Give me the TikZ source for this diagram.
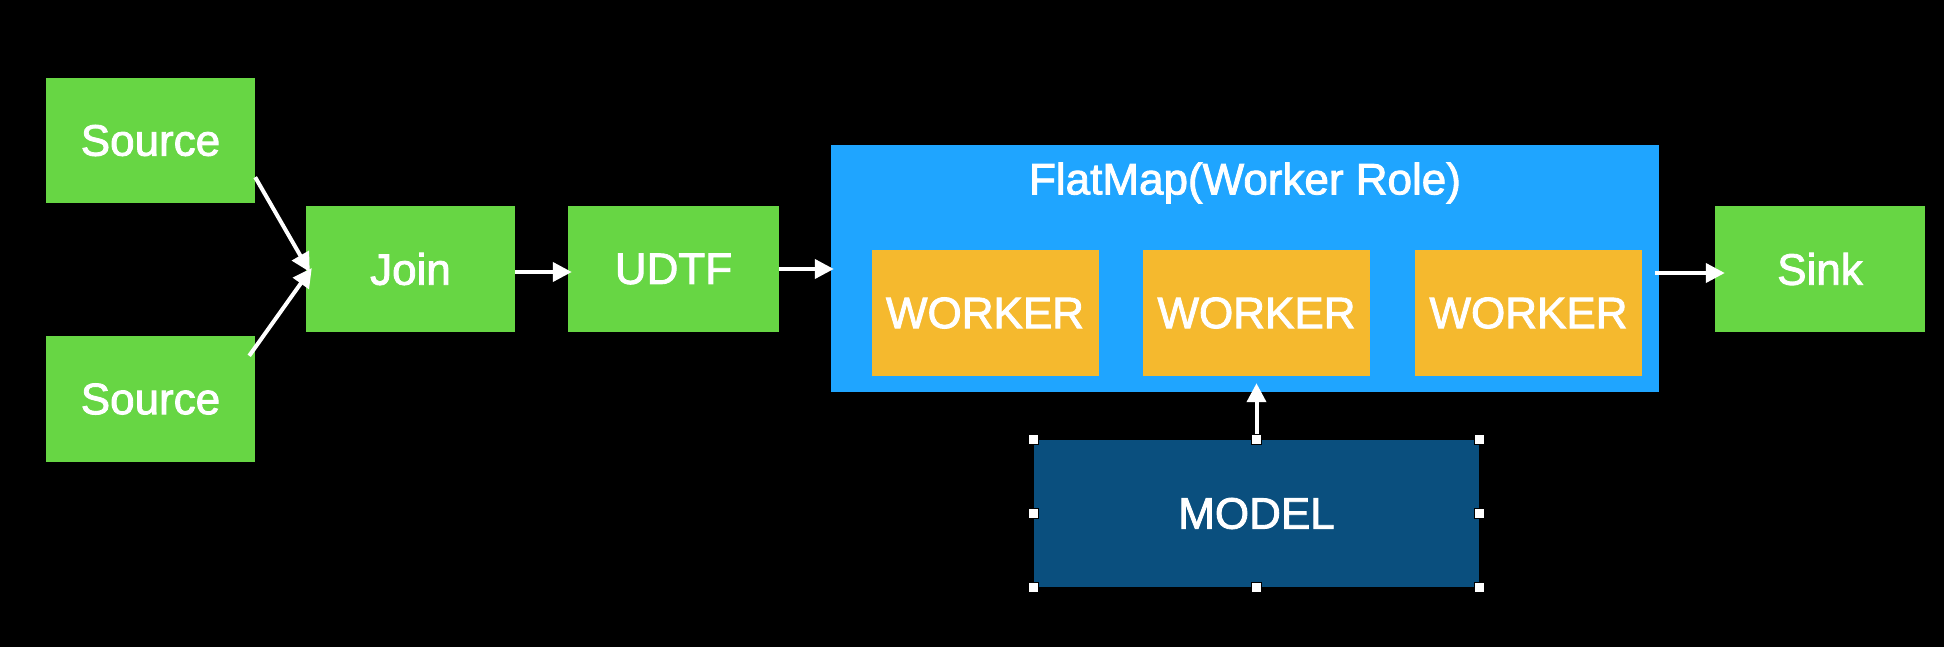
\documentclass[tikz,border=0pt]{standalone}
\usepackage{fontspec}
\setmainfont[FakeBold=2]{Liberation Sans}
\usetikzlibrary{arrows.meta}
\definecolor{gr}{RGB}{103,214,68}
\definecolor{bl}{RGB}{31,165,255}
\definecolor{og}{RGB}{245,185,46}
\definecolor{db}{RGB}{10,79,126}
\begin{document}
\begin{tikzpicture}[x=1pt,y=-1pt,
  box/.style={rectangle,inner sep=0pt,text=white,font=\fontsize{44}{52}\selectfont},
  grbox/.style={box,fill=gr,minimum width=209pt,minimum height=126pt},
  wkbox/.style={box,fill=og,minimum width=227pt,minimum height=126pt},
  arr/.style={draw=white,line width=4pt,-{Triangle[length=19pt,width=19pt]}},
  handle/.style={rectangle,fill=white,draw=black,line width=0.8pt,minimum size=10pt,inner sep=0pt}]
\useasboundingbox (0,0) rectangle (1944,646);
\fill[black] (-5,-5) rectangle (1949,651);
\node[grbox,minimum height=125pt] (s1) at (150.5,140.5) {Source};
\node[grbox] (s2) at (150.5,399) {Source};
\node[grbox] (join) at (410.5,269) {Join};
\node[grbox,minimum width=211pt] (udtf) at (673.5,269) {UDTF};
\node[box,fill=bl,minimum width=828pt,minimum height=247pt] (flat) at (1245,268.5) {};
\node[box] (flatlabel) at (1245,183) {FlatMap(Worker Role)};
\node[wkbox] (w1) at (985,313) {WORKER};
\node[wkbox] (w2) at (1256.5,313) {WORKER};
\node[wkbox] (w3) at (1528.5,313) {WORKER};
\node[grbox,minimum width=210pt] (sink) at (1820,269) {Sink};
\node[box,fill=db,minimum width=445pt,minimum height=147pt] (model) at (1256.5,513.5) {MODEL};
\draw[arr] ([yshift=26pt]s1.south east) -- ([xshift=4pt,yshift=-3pt]join.west);
\draw[arr] ([xshift=-6pt,yshift=-20pt]s2.north east) -- ([xshift=6pt,yshift=1pt]join.west);
\draw[arr] ([yshift=-3pt]join.east) -- ([xshift=4pt,yshift=-3pt]udtf.west);
\draw[arr] (udtf.east) -- ([xshift=3pt]flat.west |- udtf.east);
\draw[arr] ([xshift=-4pt,yshift=-4pt]flat.east |- sink.west) -- ([xshift=10pt,yshift=-4pt]sink.west);
\draw[arr] ([yshift=5pt]model.north) -- ([yshift=9pt]flat.south -| model.north);
\foreach \a in {north west,north,north east,west,east,south west,south,south east}
  \node[handle] at (model.\a) {};
\end{tikzpicture}
\end{document}
